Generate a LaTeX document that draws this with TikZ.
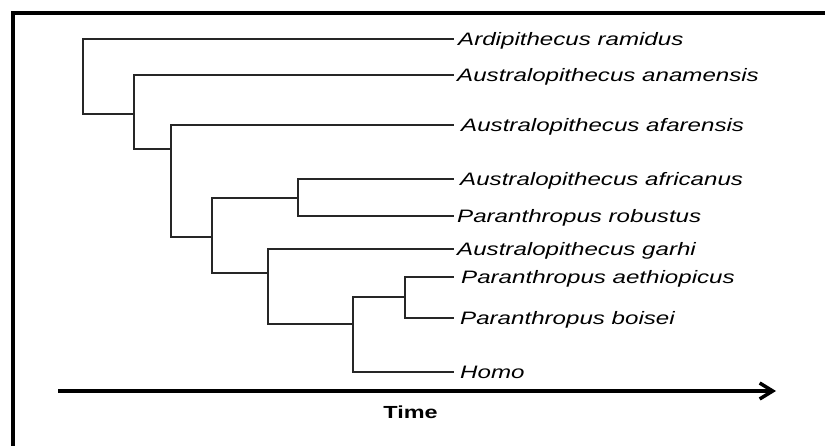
\documentclass[tikz,border=0pt]{standalone}
\usepackage{fontspec}
\setmainfont{Liberation Sans}
\usetikzlibrary{arrows.meta}

% wide sans-serif lettering
\newcommand\widetext[1]{\scalebox{1.34}[1]{#1}}

\tikzset{
  branch/.style={draw=black!85, line width=2pt, line join=miter},
  taxon/.style={anchor=base west, inner sep=0pt,
    font=\fontsize{18pt}{20pt}\selectfont\itshape},
  frameline/.style={draw=black, line width=4pt},
}

\begin{document}
\begin{tikzpicture}[x=1pt, y=-1pt]
  \useasboundingbox (0,0) rectangle (825,446);

  % frame edges
  \draw[frameline] (12.5,446) -- (12.5,13) -- (825,13);

  % branch tips
  \coordinate (tArdi)   at (454,39);
  \coordinate (tAnam)   at (454,75);
  \coordinate (tAfar)   at (454,125);
  \coordinate (tAfric)  at (454,179);
  \coordinate (tRobus)  at (454,216);
  \coordinate (tGarhi)  at (454,249);
  \coordinate (tAethi)  at (454,277);
  \coordinate (tBoisei) at (454,318);
  \coordinate (tHomo)   at (454,372);

  % internal nodes
  \coordinate (r)  at (83,76);
  \coordinate (n2) at (134,114);
  \coordinate (n3) at (171,149);
  \coordinate (n4) at (212,237);
  \coordinate (n5) at (298,198);
  \coordinate (n6) at (268,273);
  \coordinate (n7) at (353,324);
  \coordinate (n8) at (405,297);

  % taxon labels
  \node[taxon] (lArdi)   at ([xshift=4pt,yshift=-6.5pt]tArdi)   {\widetext{Ardipithecus ramidus}};
  \node[taxon] (lAnam)   at ([xshift=3pt,yshift=-6.5pt]tAnam)   {\widetext{Australopithecus anamensis}};
  \node[taxon] (lAfar)   at ([xshift=7pt,yshift=-6.5pt]tAfar)   {\widetext{Australopithecus afarensis}};
  \node[taxon] (lAfric)  at ([xshift=6pt,yshift=-6.5pt]tAfric)  {\widetext{Australopithecus africanus}};
  \node[taxon] (lRobus)  at ([xshift=3pt,yshift=-6.5pt]tRobus)  {\widetext{Paranthropus robustus}};
  \node[taxon] (lGarhi)  at ([xshift=3pt,yshift=-6.5pt]tGarhi)  {\widetext{Australopithecus garhi}};
  \node[taxon] (lAethi)  at ([xshift=7pt,yshift=-6.5pt]tAethi)  {\widetext{Paranthropus aethiopicus}};
  \node[taxon] (lBoisei) at ([xshift=6pt,yshift=-6.5pt]tBoisei) {\widetext{Paranthropus boisei}};
  \node[taxon] (lHomo)   at ([xshift=6pt,yshift=-6.5pt]tHomo)   {\widetext{Homo}};

  % tree branches
  \draw[branch] (r) |- (tArdi);
  \draw[branch] (r) |- (n2);
  \draw[branch] (n2) |- (tAnam);
  \draw[branch] (n2) |- (n3);
  \draw[branch] (n3) |- (tAfar);
  \draw[branch] (n3) |- (n4);
  \draw[branch] (n4) |- (n5);
  \draw[branch] (n4) |- (n6);
  \draw[branch] (n5) |- (tAfric);
  \draw[branch] (n5) |- (tRobus);
  \draw[branch] (n6) |- (tGarhi);
  \draw[branch] (n6) |- (n7);
  \draw[branch] (n7) |- (n8);
  \draw[branch] (n7) |- (tHomo);
  \draw[branch] (n8) |- (tAethi);
  \draw[branch] (n8) |- (tBoisei);

  % time axis
  \coordinate (tStart) at (58,391);
  \coordinate (tEnd)   at (776,391);
  \draw[line width=3.5pt, -{Straight Barb[length=13pt,width=16pt]}] (tStart) -- (tEnd);
  \node[anchor=base, inner sep=0pt, font=\fontsize{17.5pt}{20pt}\selectfont\bfseries] (time) at (410.5,418) {\widetext{Time}};
\end{tikzpicture}
\end{document}
